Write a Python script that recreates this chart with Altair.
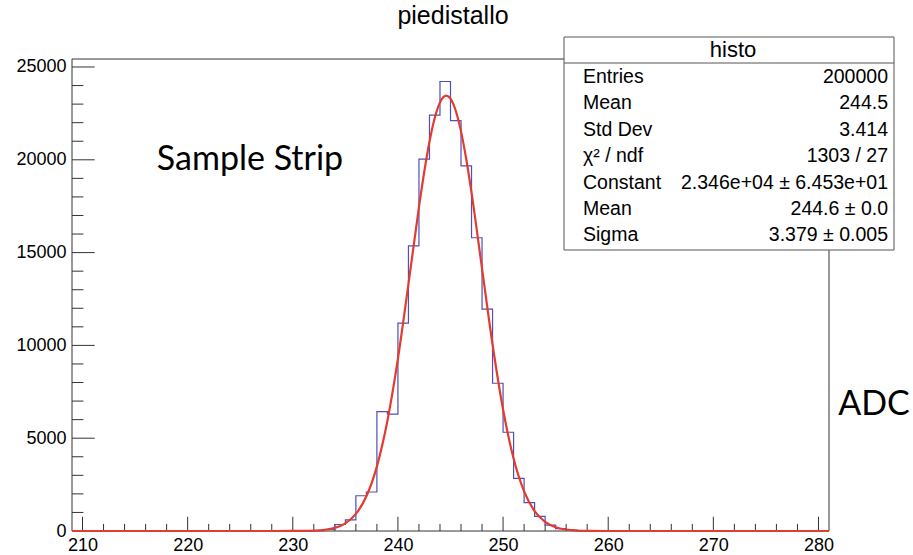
import altair as alt
import pandas as pd

# ---------------- data ----------------
# histogram: 1-ADC bins from 209 to 281, non-empty bins from 232 to 256
hist_first_bin = 232
hist_counts = [15, 80, 350, 600, 1900, 2100, 6430, 6300, 11200, 15360, 20040,
               22410, 24220, 22110, 19670, 15800, 11950, 7960, 5320, 2840,
               1530, 790, 320, 130, 50]
x_range = [209, 281]
y_max = 25431

# gaussian fit curve
fit_x = [209, 228, 230, 231, 232, 233, 234, 235, 236, 237, 238, 239, 240, 241,
         242, 242.5, 243, 243.5, 244, 244.6, 245, 245.5, 246, 246.5, 247, 248,
         249, 250, 251, 252, 253, 254, 255, 256, 257, 258, 260, 281]
fit_y = [0, 0, 2, 7, 22, 65, 171, 414, 920, 1870, 3484, 5943, 9288, 13300,
         17450, 19340, 20971, 22250, 23093, 23460, 23296, 22644, 21532, 20030,
         18231, 14141, 10050, 6543, 3904, 2133, 1068, 490, 206, 79, 28, 9, 1, 0]

x_major = [210, 220, 230, 240, 250, 260, 270, 280]
x_minor = [v for v in range(210, 281, 2) if v % 10 != 0]
y_major = [0, 5000, 10000, 15000, 20000, 25000]
y_minor = [v for v in range(1000, 25001, 1000) if v % 5000 != 0]

stats_title = "histo"
stats_labels = ["Entries", "Mean", "Std Dev", "\u03c7\u00b2 / ndf", "Constant", "Mean", "Sigma"]
stats_values = ["200000", "244.5", "3.414", "1303 / 27",
                "2.346e+04 \u00b1 6.453e+01", "244.6 \u00b1 0.0", "3.379 \u00b1 0.005"]

chart_title = "piedistallo"
note_text = "Sample Strip"
axis_note = "ADC"

# ---------------- build ----------------
W, H = 757, 472
FONT = "Liberation Sans"

edges = list(range(x_range[0], x_range[1] + 1))
counts = []
for e in edges:
    i = e - hist_first_bin
    counts.append(hist_counts[i] if 0 <= i < len(hist_counts) else 0)
hist_df = pd.DataFrame({"x": edges, "y": counts})
fit_df = pd.DataFrame({"x": fit_x, "y": fit_y})

xs = alt.Scale(domain=x_range, nice=False, zero=False)
ys = alt.Scale(domain=[0, y_max], nice=False, zero=False)

xaxis = alt.Axis(values=x_major, ticks=False, domain=False, grid=False,
                 labelFont=FONT, labelFontSize=18, labelColor="black",
                 labelPadding=5, labelFlush=False, format="d", title="")
yaxis = alt.Axis(values=y_major, ticks=False, domain=False, grid=False,
                 labelFont=FONT, labelFontSize=18, labelColor="black",
                 labelPadding=6, format="d", title="")


def X(f="x"):
    return alt.X(f + ":Q", scale=xs, axis=xaxis, title="")


def Y(f="y"):
    return alt.Y(f + ":Q", scale=ys, axis=yaxis, title="")


one = pd.DataFrame({"k": [0]})

frame = alt.Chart(one).mark_rect(filled=False, stroke="#333333", strokeWidth=1).encode(
    x=alt.value(0), x2=alt.value(W), y=alt.value(0), y2=alt.value(H))

xmaj = alt.Chart(pd.DataFrame({"x": x_major})).mark_rule(color="#333333").encode(
    x=X(), y=alt.value(H), y2=alt.value(H - 14.2))
xmin = alt.Chart(pd.DataFrame({"x": x_minor})).mark_rule(color="#333333").encode(
    x=X(), y=alt.value(H), y2=alt.value(H - 7.1))
ymaj = alt.Chart(pd.DataFrame({"y": y_major})).mark_rule(color="#333333").encode(
    y=Y(), x=alt.value(0), x2=alt.value(22.7))
ymin = alt.Chart(pd.DataFrame({"y": y_minor})).mark_rule(color="#333333").encode(
    y=Y(), x=alt.value(0), x2=alt.value(11.4))

hist = alt.Chart(hist_df).mark_line(interpolate="step-after", color="#4f4fb8",
                                    strokeWidth=1.2).encode(x=X(), y=Y())

fit = alt.Chart(fit_df).mark_line(interpolate="monotone", color="#e23b30",
                                  strokeWidth=2.2).encode(x=X(), y=Y())

# stats box
BX0, BX1, BY0, BY1 = 492, 822, -22, 191
box = alt.Chart(one).mark_rect(fill="white", stroke="#555555", strokeWidth=1).encode(
    x=alt.value(BX0), x2=alt.value(BX1), y=alt.value(BY0), y2=alt.value(BY1))
hline = alt.Chart(one).mark_rule(color="#555555", strokeWidth=1).encode(
    x=alt.value(BX0), x2=alt.value(BX1), y=alt.value(4))
layers = [frame, xmin, xmaj, ymin, ymaj, hist, fit, box, hline]

layers.append(alt.Chart(pd.DataFrame({"t": [stats_title]})).mark_text(
    font=FONT, fontSize=22, color="black", align="center", baseline="middle").encode(
    text="t:N", x=alt.value((BX0 + BX1) / 2 + 4), y=alt.value(-9)))

row_y0, row_dy = 18, 26.4
for i, (lab, val) in enumerate(zip(stats_labels, stats_values)):
    d = pd.DataFrame({"l": [lab], "v": [val]})
    yy = row_y0 + i * row_dy
    layers.append(alt.Chart(d).mark_text(font=FONT, fontSize=19.5, color="black",
                                         align="left", baseline="middle").encode(
        text="l:N", x=alt.value(511), y=alt.value(yy)))
    layers.append(alt.Chart(d).mark_text(font=FONT, fontSize=19.5, color="black",
                                         align="right", baseline="middle").encode(
        text="v:N", x=alt.value(816), y=alt.value(yy)))

layers.append(alt.Chart(pd.DataFrame({"t": [chart_title]})).mark_text(
    font=FONT, fontSize=25, color="black", align="center", baseline="middle").encode(
    text="t:N", x=alt.value(381), y=alt.value(-43)))
layers.append(alt.Chart(pd.DataFrame({"t": [note_text]})).mark_text(
    font="Lato", fontSize=34, color="black", align="center", baseline="middle").encode(
    text="t:N", x=alt.value(178), y=alt.value(101)))
layers.append(alt.Chart(pd.DataFrame({"t": [axis_note]})).mark_text(
    font="Lato", fontSize=34, color="black", align="center", baseline="middle").encode(
    text="t:N", x=alt.value(802), y=alt.value(346)))

chart = alt.layer(*layers).properties(
    width=W, height=H, autosize="none",
    padding={"left": 72, "top": 59, "right": 913 - 72 - W, "bottom": 555 - 59 - H},
    background="white",
).configure_view(strokeWidth=0)

chart.save("out.html", embed_options={"renderer": "svg", "actions": False})
